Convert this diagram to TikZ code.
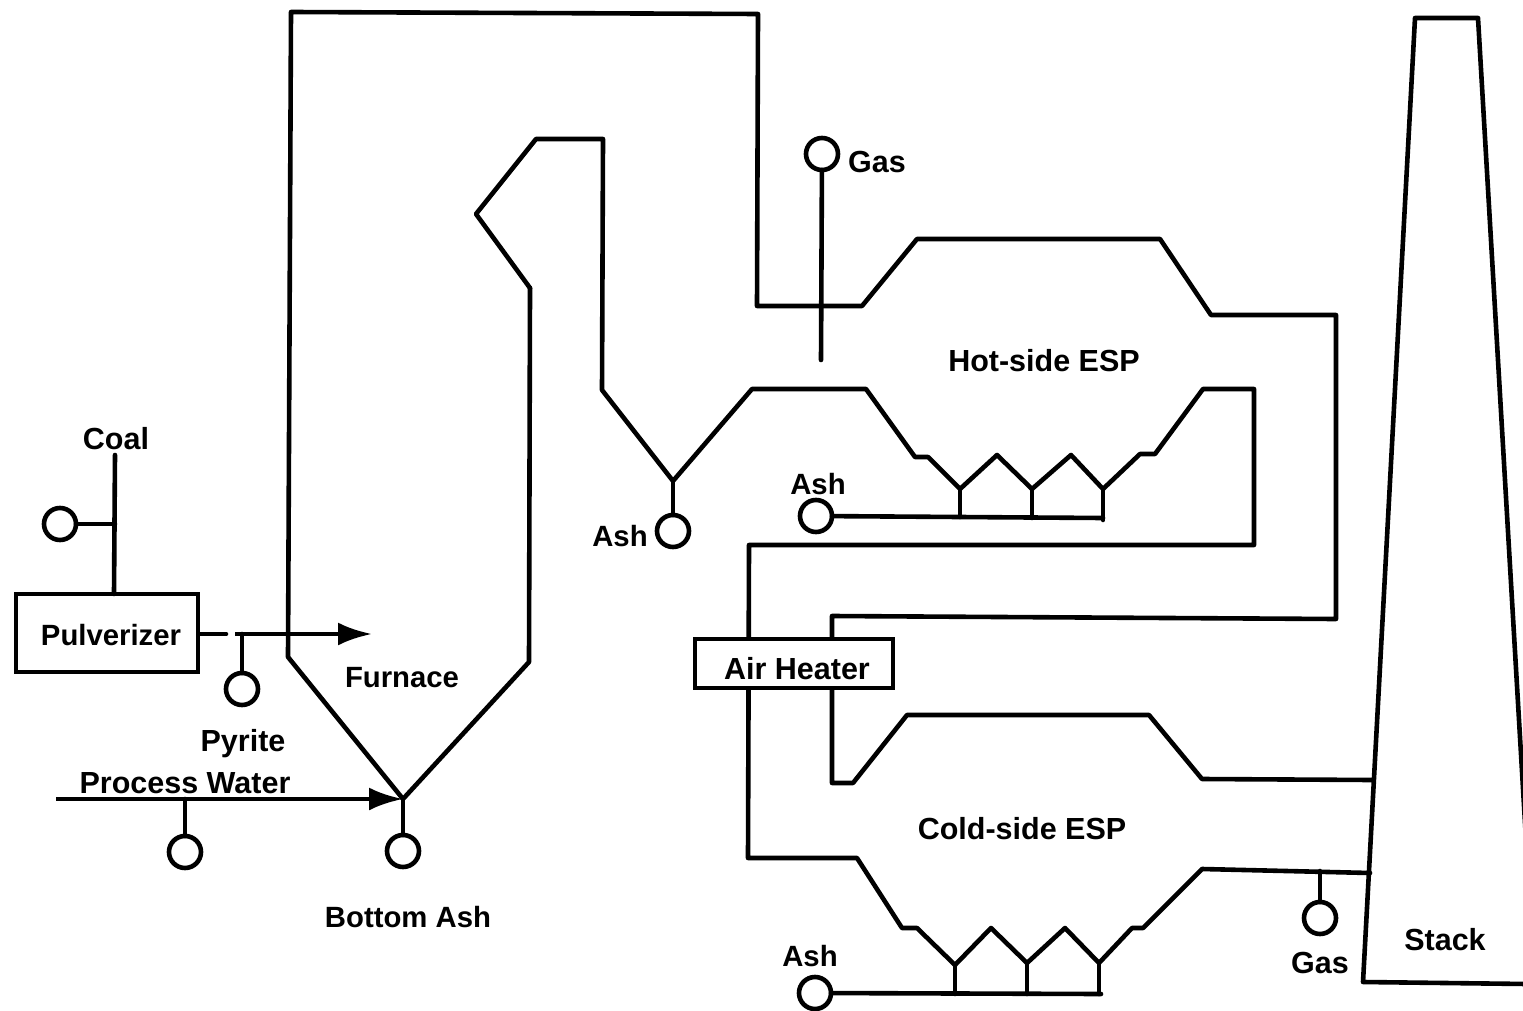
\documentclass[tikz,border=0pt]{standalone}
\usepackage{fontspec}
\setmainfont{Liberation Sans}
\usetikzlibrary{arrows.meta}
\tikzset{
 pipe/.style={line width=4.6pt,line join=round,line cap=round,black},
 port/.style={circle,draw=black,line width=4.6pt,fill=white,minimum size=32pt,inner sep=0pt,outer sep=0pt},
 lab/.style={font=\fontsize{30.5}{33}\selectfont\bfseries,text=black,inner sep=0pt},
 labs/.style={lab,font=\fontsize{29.3}{32}\selectfont\bfseries},
 box/.style={draw=black,line width=4.6pt,fill=white,inner sep=0pt,outer sep=0pt,anchor=north west},
 flow/.style={line width=4.6pt,-{Latex[length=34pt,width=23pt]}}
}
\begin{document}
\begin{tikzpicture}[x=1pt,y=-1pt]
\useasboundingbox (0,0) rectangle (1523,1011);
% inner gas path: superheater, hot-side ESP lower wall, cold-side ESP lower wall
\draw[pipe] (530,288) -- (476,214) -- (536,139) -- (603,139) -- (602,390) -- (673,481) -- (752,389) -- (866,389) -- (915,457) -- (928,457) -- (960,489) -- (997,455) -- (1032,489) -- (1071,455) -- (1103,489) -- (1140,454) -- (1155,454) -- (1203,389) -- (1254,389) -- (1254,545) -- (749,545) -- (748,858) -- (857,858) -- (902,928) -- (917,928) -- (955,965) -- (991,928) -- (1027,963) -- (1065,928) -- (1099,963) -- (1132,928) -- (1143,928) -- (1202,869) -- (1370,873);
% outer gas path: furnace, hot-side ESP upper wall, cold-side ESP upper wall
\draw[pipe] (530,288) -- (529,662) -- (403,799) -- (288,657) -- (291,12) -- (758,14) -- (757,306) -- (862,306) -- (917,239) -- (1160,239) -- (1211,315) -- (1336,315) -- (1336,619) -- (832,616) -- (832,783) -- (853,783) -- (907,715) -- (1149,715) -- (1202,779) -- (1372,780);
% stack
\draw[pipe] (1527,984) -- (1363,982) -- (1415,18) -- (1478,18) -- (1526,840);
% boxes
\node[box,minimum width=182pt,minimum height=78pt] (pulv) at (16,594) {};
\node[box,minimum width=198pt,minimum height=49pt] (heater) at (695,639) {};
\node[labs] at (111,635) {Pulverizer};
\node[lab] at (797,669) {Air Heater};
% ports
\node[port] (pCoal) at (60,524) {};
\node[port] (pPyrite) at (242,689) {};
\node[port] (pWater) at (185,852) {};
\node[port] (pBottom) at (403,851) {};
\node[port] (pAsh1) at (673,531) {};
\node[port] (pAsh2) at (816,516) {};
\node[port] (pAsh3) at (815,993) {};
\node[port] (pGas1) at (822,154) {};
\node[port] (pGas2) at (1320,918) {};
% coordinates
\coordinate (coalTop) at (115,455);
\coordinate (coalJ) at (115,524);
\coordinate (pulvTop) at (114,594);
\coordinate (pulvOut) at (199,634);
\coordinate (pulvStub) at (226,634);
\coordinate (feedS) at (235,634);
\coordinate (feedE) at (372,634);
\coordinate (pyJ) at (242,634);
\coordinate (waterS) at (56,799);
\coordinate (waterE) at (403,799);
\coordinate (waterJ) at (185,799);
\coordinate (gasEnd) at (821,360);
\coordinate (ashHop) at (673,481);
\coordinate (gas2J) at (1320,871);
\coordinate (ashA) at (1103,518);
\coordinate (ashAend) at (1103,520);
\coordinate (ashB) at (1101,994);
% connectors
\draw[pipe] (pCoal) -- (coalJ);
\draw[pipe] (coalTop) -- (pulvTop);
\draw[pipe] (pulvOut) -- (pulvStub);
\draw[flow] (feedS) -- (feedE);
\draw[pipe] (pPyrite) -- (pyJ);
\draw[flow] (waterS) -- (waterE);
\draw[pipe] (pWater) -- (waterJ);
\draw[pipe] (pBottom) -- (waterE);
\draw[pipe] (pGas1) -- (gasEnd);
\draw[pipe] (pAsh1) -- (ashHop);
\draw[pipe] (pGas2) -- (gas2J);
% ash lines
\draw[pipe] (pAsh2) -- (ashA);
\draw[pipe] (960,489) -- (960,517) (1032,489) -- (1032,518) (1103,489) -- (ashAend);
\draw[pipe] (pAsh3) -- (ashB);
\draw[pipe] (955,965) -- (955,994) (1027,963) -- (1027,994) (1099,963) -- (1099,994);
% labels
\node[lab] at (116,439) {Coal};
\node[labs] at (402,678) {Furnace};
\node[lab] at (243,744) {Pyrite};
\node[lab] at (185,783) {Process Water};
\node[labs] at (408,917) {Bottom Ash};
\node[labs] at (620,536) {Ash};
\node[labs] at (818,484) {Ash};
\node[labs] at (810,956) {Ash};
\node[lab] at (877,162) {Gas};
\node[lab] at (1044,361) {Hot-side ESP};
\node[lab] at (1022,829) {Cold-side ESP};
\node[lab] at (1320,963) {Gas};
\node[lab] at (1445,940) {Stack};
\end{tikzpicture}
\end{document}
